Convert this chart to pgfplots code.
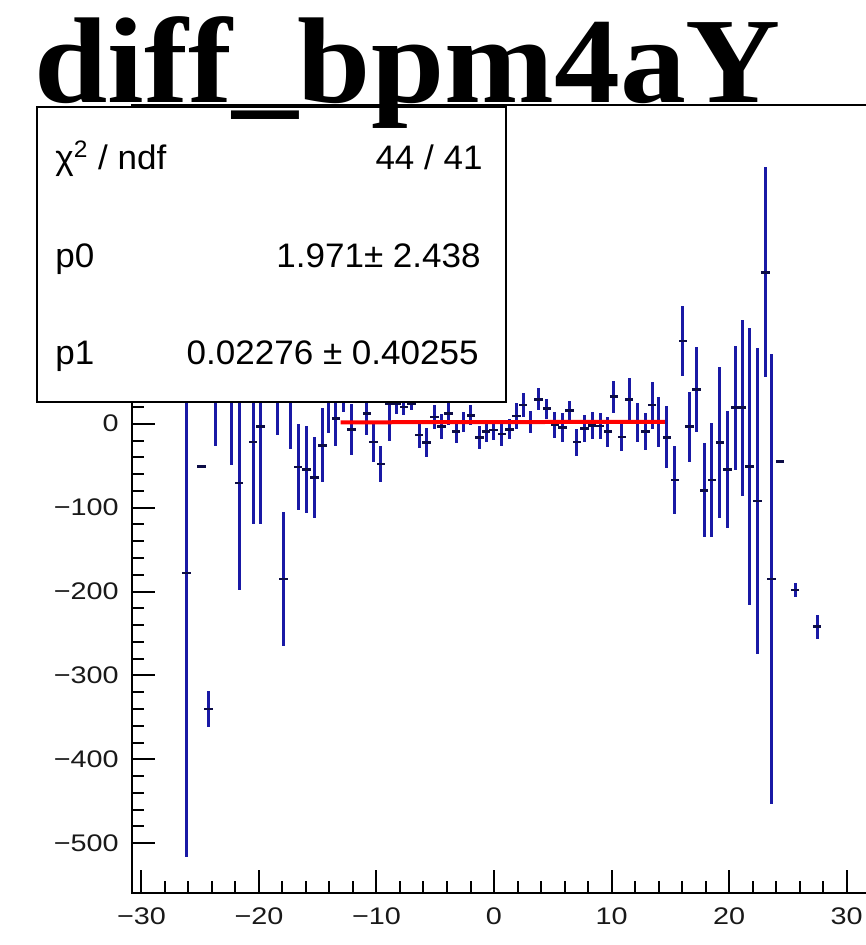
\documentclass[border=0pt]{standalone}
\usepackage{pgfplots}
\pgfplotsset{compat=1.18}
\usepackage{pgfplotstable}
\usepackage{fontspec}
\setmainfont{Liberation Sans}
\newfontfamily\titlefont[FakeStretch=1.08]{Liberation Serif}
\newfontfamily\tickfont[FakeStretch=1.2]{Liberation Sans}
\newfontfamily\statfont[FakeStretch=1.03]{Liberation Sans}
\definecolor{rootblue}{RGB}{25,25,165}
\definecolor{rootnavy}{RGB}{12,12,70}
\pgfplotstableread{
x y ey
-26.15 -178 338
-24.88 -51 0
-24.31 -340 22
-23.69 45 72
-22.32 40 89
-21.68 -70.5 128
-20.49 -22 97
-19.86 -3.5 116
-18.44 45 58
-17.93 -185 80
-17.30 30 60
-16.66 -51.6 51
-15.94 -54.4 52
-15.29 -64 48
-14.58 -25.8 44
-14.10 30 41
-13.45 6 33
-12.77 32 18
-12.11 -7 30
-10.83 12.4 26
-10.27 -22 24
-9.62 -48 22
-8.91 24 45
-8.30 24 12
-7.66 20 10
-7.02 24 8
-6.38 -13.5 15
-5.73 -22.6 17
-5.06 8 14
-4.47 -3.6 15
-3.89 12.4 14
-3.23 -9.5 14
-2.60 2 12
-1.96 10 12
-1.25 -16.7 14
-0.68 -9.5 12
-0.06 -7.5 12
0.66 -12.3 14
1.30 -6.7 12
1.93 9.2 15
2.49 22.3 14
3.11 2.4 13
3.77 29 13
4.49 18 12
5.19 -1.5 15
5.83 -4.5 17
6.41 15.5 12
7.04 -22 16
7.69 -6 16
8.34 -2 16
9.02 -2.7 16
9.68 -9.5 18
10.21 32.2 19
10.89 -16 16
11.51 29 25
12.21 1.5 23
12.88 -9.5 22
13.45 22.3 28
14.04 2.4 30
14.70 -16.3 37
15.40 -67 40
16.06 98.5 42
16.64 -3.6 42
17.23 41 51
17.87 -79.5 56
18.55 -67 68
19.23 -22.6 90
19.87 -54.4 70
20.51 19 74
21.11 19 105
21.74 -51 165
22.41 -92 182
23.11 180.5 125
23.62 -185 268
24.34 -45 0
25.62 -198 8
27.49 -242 14
}\histdata
\begin{document}
\begin{tikzpicture}
\begin{axis}[
  at={(65.85pt,-446.65pt)}, anchor=south west,
  scale only axis, width=384.15pt, height=394.15pt,
  xmin=-30.83, xmax=34.55, ymin=-559.7, ymax=379.9,
  axis line style={line width=1pt, black},
  xtick={-30,-20,...,30}, xticklabels={−30,−20,−10,0,10,20,30},
  ytick={-500,-400,...,300}, yticklabels={−500,−400,−300,−200,−100,0,,,},
  minor x tick num=4, minor y tick num=4,
  tick align=inside, xtick pos=left, ytick pos=left,
  major tick length=11.5pt, minor tick length=6pt,
  every tick/.style={line width=1pt, black},
  every minor tick/.style={line width=1pt, black},
  tick label style={font=\tickfont\fontsize{12}{12}\selectfont, text=black!90},
  xticklabel style={yshift=-3.5pt},
  yticklabel style={xshift=-3pt},
  clip=false,
]
\addplot[draw=none, mark=none, error bars/.cd, y dir=both, y explicit,
  error mark=none, error bar style={draw=rootblue, line width=1.5pt}]
  table[x=x, y=y, y error=ey] {\histdata};
\addplot[draw=none, mark=none, error bars/.cd, x dir=both, x fixed=0.36,
  error mark=none, error bar style={draw=rootnavy, line width=1.3pt}]
  table[x=x, y=y] {\histdata};
\addplot[red, line width=2pt, mark=none] coordinates {(-13.05,1.67) (14.55,2.30)};
\end{axis}
\draw[fill=white, line width=1pt] (18.5pt,-53.5pt) rectangle (253pt,-201pt);
\node[anchor=base west, inner sep=0, font=\statfont\fontsize{17}{17}\selectfont] at (27.5pt,-85pt) {χ\textsuperscript{2} / ndf};
\node[anchor=base east, inner sep=0, font=\statfont\fontsize{17}{17}\selectfont] at (241.5pt,-85pt) {44 / 41};
\node[anchor=base west, inner sep=0, font=\statfont\fontsize{17}{17}\selectfont] at (27.5pt,-134pt) {p0};
\node[anchor=base east, inner sep=0, font=\statfont\fontsize{17}{17}\selectfont] at (240.5pt,-134pt) {1.971± 2.438};
\node[anchor=base west, inner sep=0, font=\statfont\fontsize{17}{17}\selectfont] at (27.5pt,-182.5pt) {p1};
\node[anchor=base east, inner sep=0, font=\statfont\fontsize{17}{17}\selectfont] at (239.5pt,-182.5pt) {0.02276 ± 0.40255};
\node[anchor=base west, inner sep=0] at (17pt,-51.5pt) {\titlefont\bfseries\fontsize{61}{61}\selectfont diff\_bpm4aY};
\pgfresetboundingbox
\useasboundingbox (0,0) rectangle (432.5pt,-472.5pt);
\end{tikzpicture}
\end{document}
